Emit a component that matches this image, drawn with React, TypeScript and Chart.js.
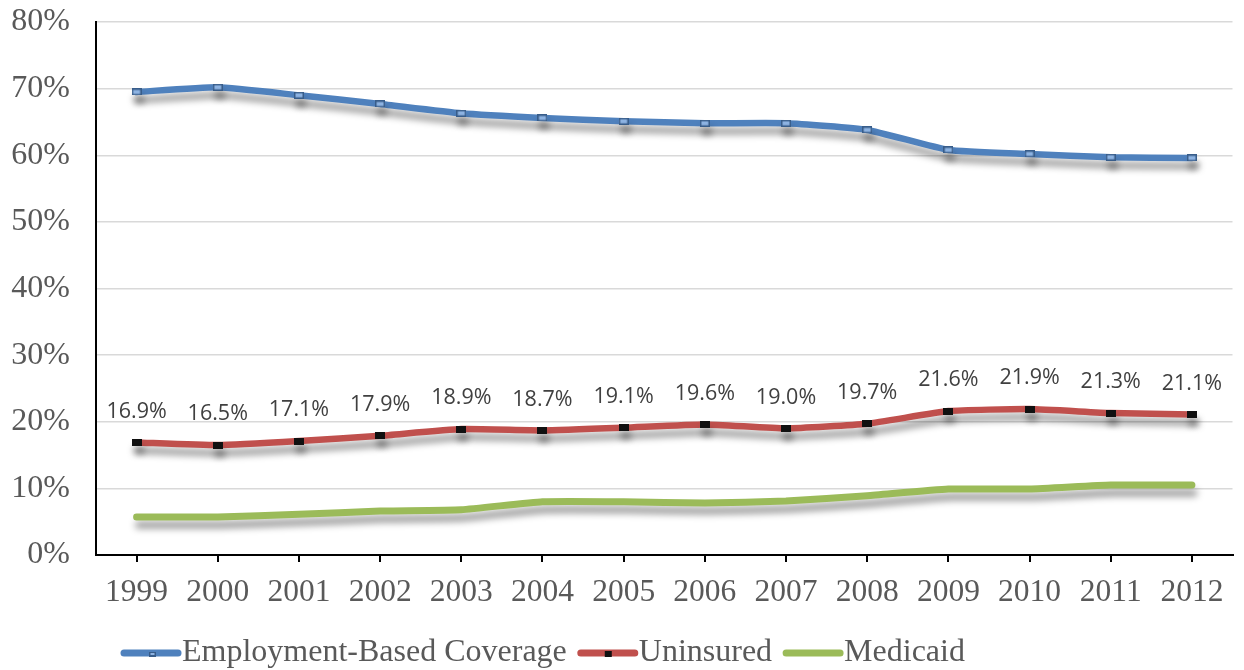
import React, { useEffect, useRef } from "react";
import { Chart, registerables } from "chart.js";

Chart.register(...registerables);

const years = ["1999", "2000", "2001", "2002", "2003", "2004", "2005", "2006", "2007", "2008", "2009", "2010", "2011", "2012"];
const employmentBased = [69.5, 70.2, 69.0, 67.7, 66.3, 65.6, 65.1, 64.8, 64.8, 63.8, 60.8, 60.2, 59.7, 59.6];
const uninsured = [16.9, 16.5, 17.1, 17.9, 18.9, 18.7, 19.1, 19.6, 19.0, 19.7, 21.6, 21.9, 21.3, 21.1];
const medicaid = [5.7, 5.7, 6.1, 6.6, 6.8, 8.0, 8.0, 7.8, 8.1, 8.9, 9.9, 9.9, 10.5, 10.5];
const yTicks = [0, 10, 20, 30, 40, 50, 60, 70, 80];
const seriesNames = ["Employment-Based Coverage", "Uninsured", "Medicaid"];

const BLUE = "#4f81bd";
const RED = "#c0504d";
const GREEN = "#9bbb59";
const SERIF = '"Liberation Serif", "Times New Roman", serif';

function makeMarker(w: number, h: number, fill: string, stroke: string) {
  const c = document.createElement("canvas");
  c.width = w;
  c.height = h;
  const g = c.getContext("2d")!;
  g.fillStyle = stroke;
  g.fillRect(0, 0, w, h);
  g.fillStyle = fill;
  g.fillRect(1.5, 1.5, w - 3, h - 3);
  return c;
}

const shadowPlugin = {
  id: "lineShadow",
  beforeDatasetDraw(chart: any) {
    const ctx = chart.ctx;
    ctx.save();
    ctx.shadowColor = "rgba(0,0,0,0.4)";
    ctx.shadowBlur = 7;
    ctx.shadowOffsetX = 2;
    ctx.shadowOffsetY = 8;
  },
  afterDatasetDraw(chart: any) {
    chart.ctx.restore();
  },
};

const labelPlugin = {
  id: "uninsuredLabels",
  afterDatasetsDraw(chart: any) {
    const ctx = chart.ctx;
    const meta = chart.getDatasetMeta(1);
    ctx.save();
    ctx.font = '21.5px "Open Sans", "DejaVu Sans", sans-serif';
    ctx.fillStyle = "#404040";
    ctx.textAlign = "center";
    ctx.textBaseline = "middle";
    meta.data.forEach((pt: any, i: number) => {
      ctx.fillText(uninsured[i].toFixed(1) + "%", pt.x, pt.y - 31);
    });
    ctx.restore();
  },
};

const legendPlugin = {
  id: "customLegend",
  afterDraw(chart: any) {
    const ctx = chart.ctx;
    const colors = [BLUE, RED, GREEN];
    const y = 653;
    let x = 124;
    ctx.save();
    ctx.font = "32px " + SERIF;
    ctx.textBaseline = "middle";
    seriesNames.forEach((name, i) => {
      ctx.strokeStyle = colors[i];
      ctx.lineWidth = 7;
      ctx.lineCap = "round";
      ctx.beginPath();
      ctx.moveTo(x, y);
      ctx.lineTo(x + 54, y);
      ctx.stroke();
      if (i === 0) {
        ctx.fillStyle = "#385d8a";
        ctx.fillRect(x + 25, y - 1, 7, 5);
        ctx.fillStyle = "#8db3e2";
        ctx.fillRect(x + 26.5, y, 4, 2);
      } else if (i === 1) {
        ctx.fillStyle = "#111";
        ctx.fillRect(x + 24, y - 2, 7, 6);
      }
      ctx.fillStyle = "#595959";
      ctx.fillText(name, x + 58, y);
      x += 58 + ctx.measureText(name).width + 14;
    });
    ctx.restore();
  },
};

export default function App() {
  const ref = useRef<HTMLCanvasElement>(null);
  useEffect(() => {
    if (!ref.current) return;
    const blueMarker = makeMarker(10, 7, "#8db3e2", "#385d8a");
    const blackMarker = makeMarker(10, 7, "#111111", "#111111");
    const chart = new Chart(ref.current, {
      type: "line",
      data: {
        labels: years,
        datasets: [
          {
            label: seriesNames[0],
            data: employmentBased,
            borderColor: BLUE,
            borderWidth: 6.5,
            pointStyle: blueMarker as any,
            pointRadius: 5,
            tension: 0.15,
            borderJoinStyle: "round",
            borderCapStyle: "round",
          },
          {
            label: seriesNames[1],
            data: uninsured,
            borderColor: RED,
            borderWidth: 6.5,
            pointStyle: blackMarker as any,
            pointRadius: 5,
            tension: 0.15,
            borderJoinStyle: "round",
            borderCapStyle: "round",
          },
          {
            label: seriesNames[2],
            data: medicaid,
            borderColor: GREEN,
            borderWidth: 7,
            pointRadius: 0,
            tension: 0.15,
            borderJoinStyle: "round",
            borderCapStyle: "round",
          },
        ],
      },
      options: {
        animation: false,
        responsive: false,
        layout: { padding: { left: 0, right: 4, top: 22, bottom: 55 } },
        plugins: { legend: { display: false }, tooltip: { enabled: false } },
        scales: {
          x: {
            offset: true,
            grid: {
              offset: false,
              drawOnChartArea: false,
              drawTicks: true,
              tickLength: 7,
              color: "#000",
              lineWidth: 2,
            },
            border: { color: "#000", width: 2 },
            ticks: {
              color: "#595959",
              font: { family: SERIF, size: 31.5 },
              padding: 12,
              maxRotation: 0,
              autoSkip: false,
            },
            afterFit(scale: any) {
              scale.height = 60;
              scale.paddingLeft = 0;
              scale.paddingRight = 0;
            },
          },
          y: {
            min: 0,
            max: 80,
            afterBuildTicks(scale: any) {
              scale.ticks = yTicks.map((v) => ({ value: v }));
            },
            grid: { color: "#d9d9d9", lineWidth: 1.5, drawTicks: false },
            border: { color: "#000", width: 2 },
            ticks: {
              color: "#595959",
              font: { family: SERIF, size: 32 },
              padding: 26,
              callback: (v: any) => v + "%",
            },
            afterFit(scale: any) {
              scale.width = 96;
              scale.paddingTop = 0;
              scale.paddingBottom = 0;
            },
          },
        },
      },
      plugins: [shadowPlugin, labelPlugin, legendPlugin],
    });
    return () => chart.destroy();
  }, []);
  return (
    <div style={{ position: "fixed", left: 0, top: 0, width: 1244, height: 670, background: "#fff" }}>
      <canvas ref={ref} width={1244} height={670} style={{ width: 1244, height: 670 }} />
    </div>
  );
}
